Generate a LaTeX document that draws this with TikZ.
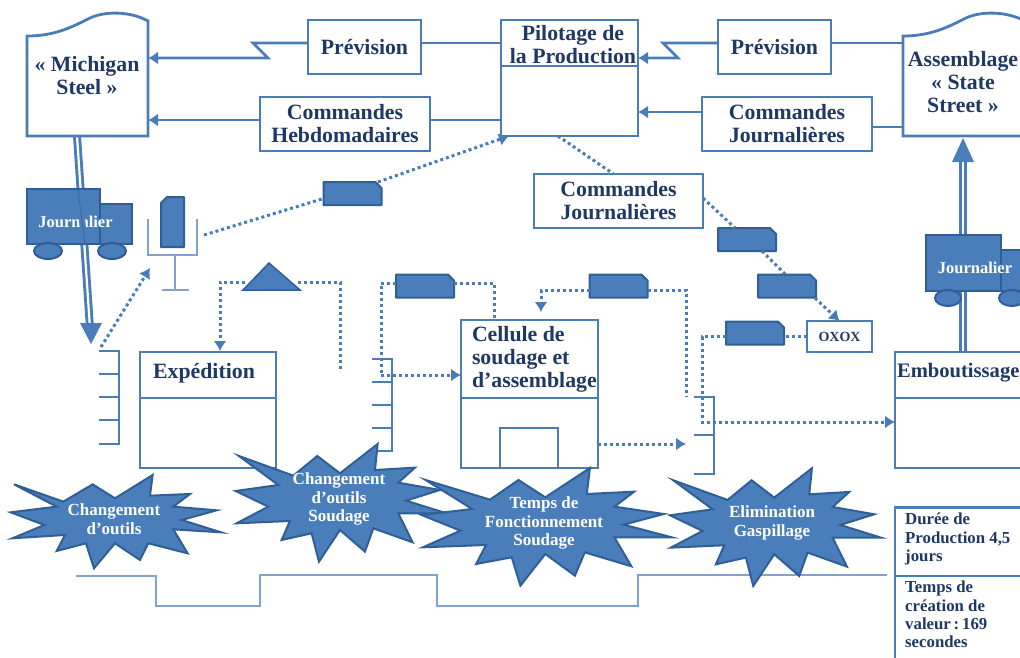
\documentclass[tikz,border=0pt]{standalone}
\usepackage{fontspec}
\setmainfont{Liberation Serif}
\usetikzlibrary{arrows.meta}
\definecolor{lineblue}{HTML}{4A7DB8}
\definecolor{fillblue}{HTML}{4A7EBB}
\definecolor{darkblue}{HTML}{2F5F96}
\definecolor{txtblue}{HTML}{1F3864}
\definecolor{thinblue}{HTML}{7FA3CC}
\newcommand{\burstA}{(42,463) -- (190,515) -- (278,463) -- (345,505) -- (458,435) -- (450,497) -- (570,492) -- (520,530) -- (650,541) -- (545,570) -- (663,607) -- (520,598) -- (563,670) -- (445,640) -- (420,690) -- (345,640) -- (282,715) -- (258,640) -- (170,663) -- (195,615) -- (37,625) -- (133,585) -- (32,547) -- (170,530) -- cycle}
\newcommand{\burstB}{(717,378) -- (880,437) -- (952,378) -- (1020,430) -- (1133,342) -- (1125,420) -- (1245,413) -- (1195,458) -- (1320,480) -- (1218,512) -- (1340,550) -- (1195,550) -- (1238,637) -- (1120,595) -- (1095,665) -- (1020,600) -- (957,695) -- (935,610) -- (845,630) -- (870,573) -- (710,580) -- (805,530) -- (707,483) -- (835,465) -- cycle}
\newcommand{\kanbancard}[3]{%
  \node[cardbase] (#1) at (#2,#3) {};
  \draw[cardline] (#1.south west) -- (#1.north west) -- ([xshift=-6pt]#1.north east) -- ([yshift=-6pt]#1.north east) -- (#1.south east) -- cycle;}
\tikzset{
  box/.style={draw=lineblue,line width=2.8pt,fill=white,inner sep=0pt,outer sep=0pt,align=center,text=txtblue,font=\fontsize{21.8}{23}\selectfont\bfseries},
  lbl/.style={inner sep=0pt,outer sep=0pt,align=center,text=txtblue,font=\fontsize{21.8}{23}\selectfont\bfseries},
  flow/.style={draw=lineblue,line width=2.8pt,-{Latex[length=10pt,width=13pt]}},
  plain/.style={draw=lineblue,line width=2.8pt},
  dots/.style={draw=lineblue,line width=3pt,dash pattern=on 3pt off 3pt},
  dotarrow/.style={dots,-{Latex[length=10pt,width=13pt]}},
  cardbase/.style={inner sep=0pt,outer sep=0pt,minimum width=58pt,minimum height=23pt},
  cardline/.style={draw=darkblue,line width=2pt,fill=fillblue,line join=round},
  burst/.style={draw=darkblue,line width=2pt,fill=fillblue,line join=miter},
  bursttext/.style={inner sep=0pt,align=center,text=white,font=\fontsize{17}{18.5}\selectfont\bfseries},
  truck/.style={draw=darkblue,line width=2pt,fill=fillblue,inner sep=0pt,outer sep=0pt},
  trucktext/.style={inner sep=0pt,text=white,font=\fontsize{16.5}{18}\selectfont\bfseries},
  bracket/.style={draw=lineblue,line width=2pt},
  thin/.style={draw=thinblue,line width=1.3pt},
  dbl/.style={draw=lineblue,line width=8pt},
  dblin/.style={draw=white,line width=2.2pt},
  info/.style={inner sep=0pt,align=left,anchor=north west,text=txtblue,font=\fontsize{16.8}{18.3}\selectfont\bfseries},
}
\begin{document}
\begin{tikzpicture}[x=1pt,y=-1pt]
\useasboundingbox (0,0) rectangle (1020,657);
\clip (0,0) rectangle (1020,657);
\fill[white] (0,0) rectangle (1020,657);

% anchors for shapes drawn as paths
\node[minimum width=121pt,minimum height=123pt,inner sep=0pt,outer sep=0pt] (mich) at (87.5,74.5) {};
\node[minimum width=134pt,minimum height=123pt,inner sep=0pt,outer sep=0pt] (assy) at (970,74.5) {};
\coordinate (tray) at (204,235);
\coordinate (trayin) at (150,268);

% double flows
\coordinate (michout) at (77,136);
\coordinate (stockA) at (90,328);
\coordinate (emb) at (963,352);
\coordinate (assyin) at (963,160);
\draw[dbl] (michout) -- (stockA);
\draw[dblin] (michout) -- (stockA);
\fill[fillblue] (80,323) -- (102,323) -- (91,344) -- cycle;
\draw[dbl] (emb) -- (assyin);
\draw[dblin] (emb) -- (assyin);
\fill[fillblue] (952,162) -- (974,162) -- (963,138) -- cycle;

% documents
\path[draw=lineblue,line width=2.8pt,fill=white] (27,136) -- (27,36) .. controls (55,36) and (72,27) .. (90,18) .. controls (105,11) and (130,11) .. (148,21) -- (148,136) -- cycle;
\node[lbl] at (87,76) {« Michigan\\Steel »};
\path[draw=lineblue,line width=2.8pt,fill=white] (903,136) -- (903,36) .. controls (931,36) and (948,27) .. (966,18) .. controls (981,11) and (1006,11) .. (1025,21) -- (1025,136) -- cycle;
\node[lbl] at (963,82) {Assemblage\\« State\\Street »};

% top boxes
\node[box,minimum width=137pt,minimum height=116pt] (pil) at (569.5,78) {};
\draw[plain] (pil.west |- 0,66) -- (pil.east |- 0,66);
\node[lbl] at (573,45) {Pilotage de\\la Production};
\node[box,minimum width=113pt,minimum height=54pt] (prevA) at (364.5,47) {Prévision};
\node[box,minimum width=113pt,minimum height=54pt] (prevB) at (774.5,47) {Prévision};
\node[box,minimum width=170pt,minimum height=54pt] (hebdo) at (345,124) {Commandes\\Hebdomadaires};
\node[box,minimum width=170pt,minimum height=54pt] (jourA) at (787,124) {Commandes\\Journalières};
\node[box,minimum width=169pt,minimum height=54pt] (jourB) at (618.5,201) {Commandes\\Journalières};

% solid connectors
\draw[plain] ([yshift=4pt]prevA.east) -- (pil.west |- 0,43);
\draw[plain] ([yshift=4pt]hebdo.east) -- (pil.west |- 0,120);
\draw[flow] ([yshift=4pt]prevA.west) -- (253,43) -- (268,58) -- (mich.east |- 0,58);
\draw[flow] ([yshift=4pt]hebdo.west) -- (mich.east |- 0,120);
\draw[plain] ([yshift=4pt]prevB.east) -- (assy.west |- 0,43);
\draw[flow] ([yshift=4pt]prevB.west) -- (663,43) -- (678,58) -- (pil.east |- 0,58);
\draw[flow] ([yshift=12pt]jourA.west) -- (pil.east |- 0,112);
\draw[plain] ([yshift=-3pt]jourA.east) -- (assy.west |- 0,127);

% kanban cards
\kanbancard{kA}{352.5}{193.5}
\kanbancard{kB}{747}{239.5}
\kanbancard{kC}{787}{286}
\kanbancard{kD}{755}{333}
\kanbancard{kE}{425}{286}
\kanbancard{kF}{618.5}{286}
\node[cardbase,minimum width=23pt,minimum height=50pt] (kV) at (172.5,222) {};
\draw[cardline] (kV.south west) -- ([yshift=-6pt]kV.north west) -- ([xshift=6pt]kV.north west) -- (kV.north east) -- (kV.south east) -- cycle;
\path[burst,line width=1.5pt] (243,290) -- (269,263) -- (300,290) -- cycle;
\coordinate (triL) at (245,282);
\coordinate (triR) at (298,282);

% post
\draw[thin] (148,219) -- (148,255) -- (197,255) -- (197,219);
\draw[thin] (175,255) -- (175,290);
\draw[thin] (162,290) -- (189,290);

% lower boxes
\node[box,minimum width=136pt,minimum height=116pt] (exp) at (208,410) {};
\draw[plain] (exp.west |- 0,398) -- (exp.east |- 0,398);
\node[lbl,anchor=center] at (204,373) {Expédition};
\node[box,minimum width=137pt,minimum height=148pt] (cell) at (529.5,394) {};
\draw[plain] (cell.west |- 0,398) -- (cell.east |- 0,398);
\node[lbl,align=left,anchor=north west] at (472,326) {Cellule de\\soudage et\\d’assemblage};
\node[draw=lineblue,line width=2.8pt,inner sep=0pt,outer sep=0pt,minimum width=58pt,minimum height=40pt] (inner) at (529,448) {};
\node[box,minimum width=140pt,minimum height=116pt] (emboss) at (965,410) {};
\draw[plain] (emboss.west |- 0,398) -- (emboss.east |- 0,398);
\node[lbl,align=left,anchor=west,font=\fontsize{20.6}{23}\selectfont\bfseries] at (897,373) {Emboutissage};
\node[box,minimum width=65pt,minimum height=31pt,font=\fontsize{14}{15}\selectfont\bfseries] (oxox) at (839.5,336.5) {OXOX};

% stock brackets
\draw[bracket] (99,351) -- (119,351) -- (119,444) -- (99,444);
\foreach \y in {374,397,420} \draw[bracket] (99,\y) -- (119,\y);
\draw[bracket] (372,359) -- (392,359) -- (392,451) -- (372,451);
\foreach \y in {382,405,428} \draw[bracket] (372,\y) -- (392,\y);
\draw[bracket] (694,397) -- (714,397) -- (714,474) -- (694,474);
\draw[bracket] (694,435) -- (714,435);

% dotted links
\draw[dotarrow] (101,347) -- (trayin);
\draw[dots] (tray) -- ([yshift=-5pt]kA.west);
\draw[dotarrow] (378,182) -- ([xshift=8pt]pil.south west);
\draw[dots] (558,136) -- ([xshift=-5pt]jourB.north);
\draw[dots] ([yshift=3pt]jourB.east) -- (735,228);
\draw[dots] (762,251) -- (785,274);
\draw[dotarrow] (815,298) -- (oxox.north);
\draw[dots] (oxox.west) -- ([yshift=-3.5pt]kD.east);
\draw[dotarrow] ([yshift=-3.5pt]kD.west) -- (702,336.5) -- (702,422) -- (emboss.west |- 0,422);
\draw[dots] ([yshift=3pt]kE.west) -- (381,283) -- (381,375);
\draw[dotarrow] (381,375) -- (cell.west |- 0,375);
\draw[dots] ([yshift=3pt]kE.east) -- (494,283) -- (494,320);
\draw[dotarrow] ([yshift=-4pt]kF.west) -- (541,290) -- (541,312);
\draw[dots] ([yshift=-4pt]kF.east) -- (686,290) -- (686,397);
\draw[dotarrow] (triL) -- (220,282) -- (220,351);
\draw[dots] (triR) -- (340,282) -- (340,372);
\draw[dotarrow] (cell.east |- 0,444) -- (686,444);

% trucks
\node[truck,minimum width=32pt,minimum height=40pt] (cabA) at (116,224) {};
\node[truck,minimum width=73pt,minimum height=55pt] (bodyA) at (63.5,216.5) {};
\draw[truck] (48,251) ellipse (14pt and 8pt);
\draw[truck] (112,251) ellipse (14pt and 8pt);
\node[trucktext] (txA) at (75.5,222) {Journalier};
\draw[draw=fillblue,line width=6pt] (78,190) -- (85,243);
\draw[draw=darkblue!60!fillblue,line width=1pt] (78,190) -- (85,243);
\node[truck,minimum width=29pt,minimum height=41pt] (cabB) at (1015.5,270.5) {};
\node[truck,minimum width=75pt,minimum height=56pt] (bodyB) at (963.5,263) {};
\draw[truck] (948,298) ellipse (13pt and 8pt);
\draw[truck] (1012,298) ellipse (13pt and 8pt);
\node[trucktext] (txB) at (975,268) {Journalier};

% timeline
\draw[thin] (76,576) -- (156,576) -- (156,606) -- (260,606) -- (260,575) -- (437,575) -- (437,606) -- (638,606) -- (638,575) -- (887,575);

% bursts
\path[burst,x=0.3333pt,y=-0.3333pt,shift={(0pt,-330pt)}] \burstA;
\path[burst,x=0.3333pt,y=-0.3333pt,shift={(0pt,-330pt)}] \burstB;
\path[burst,x=0.395pt,y=-0.3333pt,shift={(142.4pt,-354pt)}] \burstB;
\path[burst,x=0.3333pt,y=-0.3333pt,shift={(434.3pt,-354.3pt)}] \burstB;
\node[bursttext] at (114,519) {Changement\\d’outils};
\node[bursttext] at (339,499) {Changement\\d’outils\\Soudage};
\node[bursttext] at (544,523) {Temps de\\Fonctionnement\\Soudage};
\node[bursttext] at (772,523) {Elimination\\Gaspillage};

% info box
\node[box,minimum width=140pt,minimum height=153pt] (sum) at (965,584) {};
\draw[plain] (sum.west |- 0,576) -- (sum.east |- 0,576);
\node[info] at (905,513) {Durée de\\Production 4,5\\jours};
\node[info] at (905,581) {Temps de\\création de\\valeur\,:\,169\\secondes};
\end{tikzpicture}
\end{document}
